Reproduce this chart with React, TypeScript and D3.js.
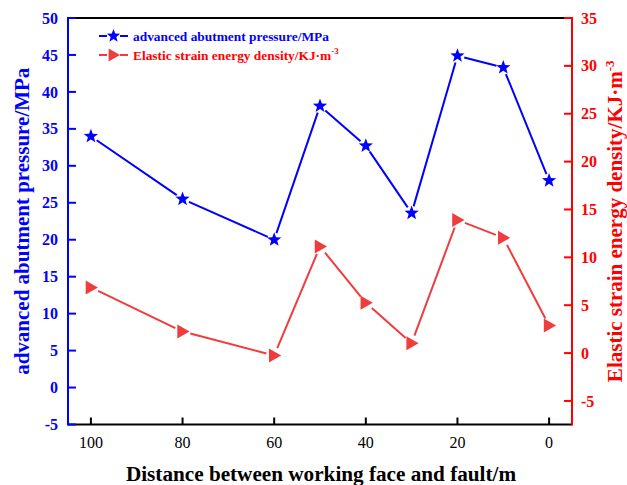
import React from "react";
import * as d3 from "d3";

// Distance between working face and fault (m)
const distances = [100, 80, 60, 50, 40, 30, 20, 10, 0];
// Advanced abutment pressure (MPa)
const pressure = [34.0, 25.5, 20.0, 38.1, 32.7, 23.6, 44.9, 43.3, 28.0];
// Elastic strain energy density (KJ·m^-3)
const energy = [6.85, 2.25, -0.26, 11.13, 5.25, 1.03, 13.9, 12.04, 2.87];

const xTicks = [100, 80, 60, 40, 20, 0];
const leftTicks = [-5, 0, 5, 10, 15, 20, 25, 30, 35, 40, 45, 50];
const rightTicks = [-5, 0, 5, 10, 15, 20, 25, 30, 35];

const W = 627;
const H = 485;
const M = { left: 68, right: 572, top: 18, bottom: 424.5 };

const BLUE = "#0000ff";
const RED = "#ff0000";
const RED_LINE = "#f03c3c";
const FONT = "'Liberation Serif', 'Times New Roman', serif";

const x = d3.scaleLinear().domain([105, -5]).range([M.left, M.right]);
const yL = d3.scaleLinear().domain([-5, 50]).range([M.bottom, M.top]);
const yR = d3.scaleLinear().domain([-7.46, 35]).range([M.bottom, M.top]);

function starPath(cx: number, cy: number, R: number) {
  const r = R * 0.42;
  const pts: string[] = [];
  for (let i = 0; i < 10; i++) {
    const a = -Math.PI / 2 + (i * Math.PI) / 5;
    const rr = i % 2 === 0 ? R : r;
    pts.push(`${cx + rr * Math.cos(a)},${cy + rr * Math.sin(a)}`);
  }
  return `M${pts.join("L")}Z`;
}

function triPath(cx: number, cy: number, s: number) {
  return `M${cx - s * 0.75},${cy - s}L${cx + s},${cy}L${cx - s * 0.75},${cy + s}Z`;
}

// Connecting segments, trimmed so they stop short of each marker
function gappedSegments(pts: [number, number][], gap: number) {
  const segs: string[] = [];
  for (let i = 0; i < pts.length - 1; i++) {
    const [x1, y1] = pts[i];
    const [x2, y2] = pts[i + 1];
    const dx = x2 - x1;
    const dy = y2 - y1;
    const len = Math.hypot(dx, dy);
    const ux = dx / len;
    const uy = dy / len;
    segs.push(
      `M${x1 + ux * gap},${y1 + uy * gap}L${x2 - ux * gap},${y2 - uy * gap}`
    );
  }
  return segs.join("");
}

export default function App() {
  const bluePts = distances.map((d, i) => [x(d), yL(pressure[i])] as [number, number]);
  const redPts = distances.map((d, i) => [x(d), yR(energy[i])] as [number, number]);

  const legendX = 99;
  const legendY1 = 36;
  const legendY2 = 55;

  return (
    <svg
      width={W}
      height={H}
      style={{ position: "absolute", left: 0, top: 0, background: "#fff" }}
      fontFamily={FONT}
    >
      {/* frame: top and bottom in black */}
      <line x1={M.left} x2={M.right} y1={M.top} y2={M.top} stroke="#000" strokeWidth={2} />
      <line x1={M.left} x2={M.right} y1={M.bottom} y2={M.bottom} stroke="#000" strokeWidth={2} />

      {/* bottom axis ticks and labels */}
      {xTicks.map((t) => (
        <g key={`x${t}`}>
          <line x1={x(t)} x2={x(t)} y1={M.bottom} y2={M.bottom - 7} stroke="#000" strokeWidth={2} />
          <text x={x(t)} y={448} textAnchor="middle" fontSize={16} fill="#000">
            {t}
          </text>
        </g>
      ))}

      {/* left axis */}
      <line x1={M.left} x2={M.left} y1={M.top - 1} y2={M.bottom + 1} stroke={BLUE} strokeWidth={2} />
      {leftTicks.map((t) => (
        <g key={`l${t}`}>
          <line x1={M.left} x2={M.left + 8} y1={yL(t)} y2={yL(t)} stroke={BLUE} strokeWidth={2} />
          <text
            x={58}
            y={yL(t)}
            dy="0.35em"
            textAnchor="end"
            fontSize={16}
            fontWeight="bold"
            fill={BLUE}
          >
            {t}
          </text>
        </g>
      ))}

      {/* right axis */}
      <line x1={M.right} x2={M.right} y1={M.top - 1} y2={M.bottom + 1} stroke={RED} strokeWidth={2} />
      {rightTicks.map((t) => (
        <g key={`r${t}`}>
          <line x1={M.right} x2={M.right - 8} y1={yR(t)} y2={yR(t)} stroke={RED} strokeWidth={2} />
          <text
            x={581}
            y={yR(t)}
            dy="0.35em"
            textAnchor="start"
            fontSize={16}
            fontWeight="bold"
            fill={RED}
          >
            {t}
          </text>
        </g>
      ))}

      {/* axis titles */}
      <text
        x={321}
        y={481}
        textAnchor="middle"
        fontSize={21.2}
        fontWeight="bold"
        fill="#000"
      >
        Distance between working face and fault/m
      </text>
      <text
        transform={`translate(29,${(M.top + M.bottom) / 2}) rotate(-90)`}
        textAnchor="middle"
        fontSize={21}
        fontWeight="bold"
        fill={BLUE}
      >
        advanced abutment pressure/MPa
      </text>
      <text
        transform={`translate(622,${(M.top + M.bottom) / 2}) rotate(-90)`}
        textAnchor="middle"
        fontSize={21}
        fontWeight="bold"
        fill={RED}
      >
        Elastic strain energy density/KJ·m
        <tspan dy={-8} fontSize={13}>-3</tspan>
      </text>

      {/* pressure series */}
      <path d={gappedSegments(bluePts, 7)} fill="none" stroke={BLUE} strokeWidth={2} />
      {bluePts.map(([px, py], i) => (
        <path key={`s${i}`} d={starPath(px, py, 7.5)} fill={BLUE} />
      ))}

      {/* energy density series */}
      <path d={gappedSegments(redPts, 8)} fill="none" stroke={RED_LINE} strokeWidth={2} />
      {redPts.map(([px, py], i) => (
        <path key={`t${i}`} d={triPath(px, py, 7)} fill={RED_LINE} />
      ))}

      {/* legend */}
      <g>
        <line x1={legendX} x2={legendX + 8} y1={legendY1} y2={legendY1} stroke={BLUE} strokeWidth={2} />
        <line x1={legendX + 21} x2={legendX + 29} y1={legendY1} y2={legendY1} stroke={BLUE} strokeWidth={2} />
        <path d={starPath(legendX + 14.5, legendY1, 7)} fill={BLUE} />
        <text x={133} y={legendY1} dy="0.35em" fontSize={13.4} fontWeight="bold" fill={BLUE}>
          advanced abutment pressure/MPa
        </text>

        <line x1={legendX} x2={legendX + 8} y1={legendY2} y2={legendY2} stroke={RED_LINE} strokeWidth={2} />
        <line x1={legendX + 21} x2={legendX + 29} y1={legendY2} y2={legendY2} stroke={RED_LINE} strokeWidth={2} />
        <path d={triPath(legendX + 14.5, legendY2, 6.5)} fill={RED_LINE} />
        <text x={133} y={legendY2} dy="0.35em" fontSize={13.4} fontWeight="bold" fill={RED}>
          Elastic strain energy density/KJ·m
          <tspan dy={-6} fontSize={9}>-3</tspan>
        </text>
      </g>
    </svg>
  );
}
